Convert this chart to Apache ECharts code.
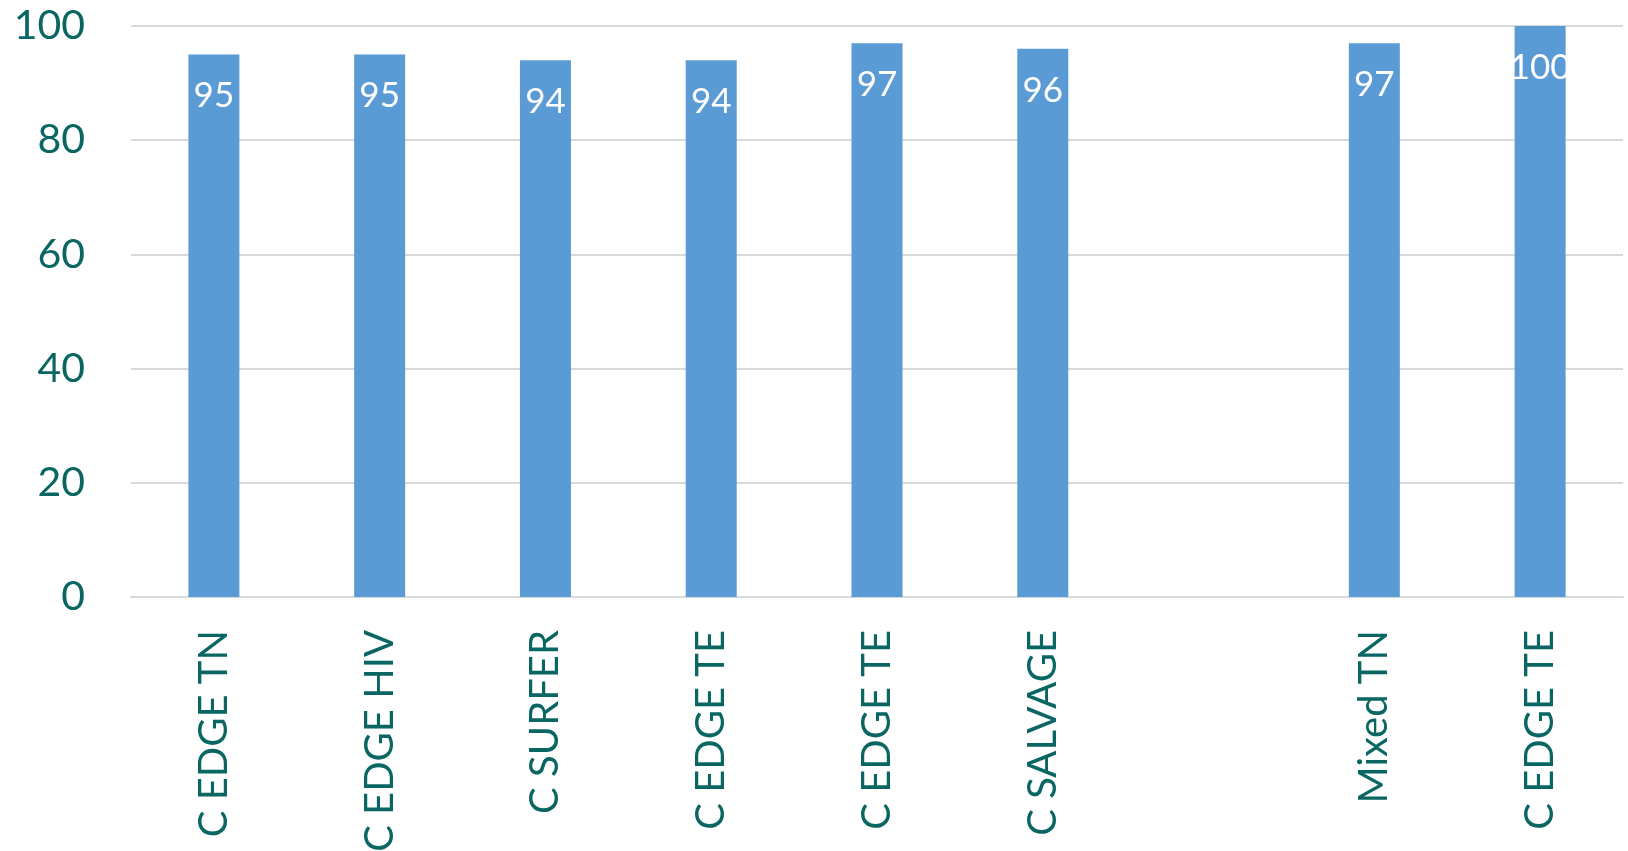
<!DOCTYPE html>
<html>
<head>
<meta charset="utf-8">
<script src="https://cdn.jsdelivr.net/npm/echarts@6/dist/echarts.min.js"></script>
<style>html,body{margin:0;padding:0;background:#fff}#c{width:1628px;height:851px}</style>
</head>
<body>
<div id="c"></div>
<script>
const categories = ['C EDGE TN', 'C EDGE HIV', 'C SURFER', 'C EDGE TE', 'C EDGE TE', 'C SALVAGE', '', 'Mixed TN', 'C EDGE TE'];
const values = [95, 95, 94, 94, 97, 96, '-', 97, 100];
const yTicks = { min: 0, max: 100, interval: 20 };

const teal = '#0a6662';
const chart = echarts.init(document.getElementById('c'), null, { renderer: 'canvas' });
chart.setOption({
  animation: false,
  grid: { left: 131, right: 5, top: 26, bottom: 254, containLabel: false, outerBoundsMode: 'none' },
  xAxis: {
    type: 'category',
    data: categories,
    axisLine: { lineStyle: { color: '#d9d9d9', width: 2 } },
    axisTick: { show: false },
    axisLabel: {
      interval: 0,
      rotate: 90,
      margin: 33,
      color: teal,
      fontFamily: 'Lato',
      fontSize: 40
    }
  },
  yAxis: {
    type: 'value',
    min: yTicks.min, max: yTicks.max, interval: yTicks.interval,
    axisLine: { show: false },
    axisTick: { show: false },
    splitLine: { lineStyle: { color: '#d9d9d9', width: 2 } },
    axisLabel: { color: teal, fontFamily: 'Lato', fontSize: 41, margin: 46 }
  },
  series: [{
    type: 'bar',
    data: values,
    barWidth: 51,
    itemStyle: { color: '#5b9bd5' },
    label: {
      show: true,
      position: 'insideTop',
      distance: 24,
      color: '#ffffff',
      fontFamily: 'Lato',
      fontSize: 35
    }
  }]
});
</script>
</body>
</html>
